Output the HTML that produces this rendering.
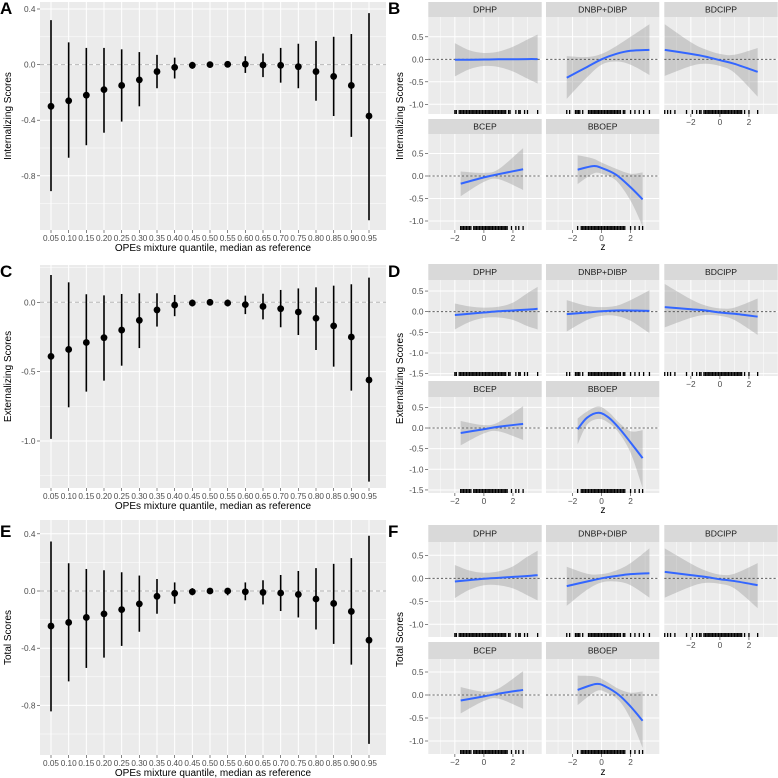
<!DOCTYPE html>
<html><head><meta charset="utf-8"><style>
html,body{margin:0;padding:0;background:#fff;}
svg{display:block;font-family:"Liberation Sans",Arial,sans-serif;}
</style></head><body>
<svg id="fig" width="778" height="778" viewBox="0 0 778 778" xmlns="http://www.w3.org/2000/svg"></svg>
<script>
// ---------- left panel data (quantile mixture effects) ----------
const quantiles = ["0.05","0.10","0.15","0.20","0.25","0.30","0.35","0.40","0.45","0.50","0.55","0.60","0.65","0.70","0.75","0.80","0.85","0.90","0.95"];
const intEst = [-0.30,-0.26,-0.22,-0.18,-0.15,-0.11,-0.05,-0.02,-0.005,0,0.002,0.003,-0.003,-0.005,-0.015,-0.05,-0.085,-0.15,-0.37];
const intLo  = [-0.91,-0.67,-0.58,-0.49,-0.41,-0.30,-0.17,-0.10,-0.03,0,-0.02,-0.06,-0.09,-0.13,-0.17,-0.26,-0.37,-0.52,-1.12];
const intHi  = [0.32,0.16,0.12,0.12,0.11,0.09,0.07,0.05,0.02,0,0.02,0.06,0.08,0.12,0.15,0.17,0.20,0.22,0.37];
const extEst = [-0.39,-0.34,-0.29,-0.255,-0.20,-0.13,-0.055,-0.02,-0.005,0,-0.005,-0.017,-0.03,-0.046,-0.07,-0.115,-0.17,-0.25,-0.56];
const extLo  = [-0.985,-0.757,-0.644,-0.565,-0.457,-0.33,-0.175,-0.10,-0.03,0,-0.03,-0.085,-0.123,-0.18,-0.236,-0.344,-0.464,-0.637,-1.293];
const extHi  = [0.197,0.144,0.058,0.05,0.06,0.065,0.065,0.053,0.02,0,0.02,0.048,0.062,0.089,0.10,0.108,0.12,0.13,0.178];
const totEst = [-0.245,-0.22,-0.185,-0.16,-0.13,-0.09,-0.037,-0.016,-0.005,0,0,-0.005,-0.01,-0.014,-0.024,-0.056,-0.087,-0.143,-0.344];
const totLo  = [-0.842,-0.632,-0.538,-0.466,-0.384,-0.285,-0.159,-0.089,-0.03,0,-0.03,-0.065,-0.094,-0.14,-0.185,-0.269,-0.37,-0.515,-1.069];
const totHi  = [0.346,0.194,0.154,0.145,0.131,0.108,0.084,0.06,0.02,0,0.02,0.06,0.075,0.112,0.14,0.16,0.19,0.23,0.386];
const leftTicksA = [0.4,0,-0.4,-0.8];
const leftTicksC = [0,-0.5,-1.0];
const leftTicksE = [0.4,0,-0.4,-0.8];

// ---------- right panel data (univariate exposure-response) ----------
const facetNames = ["DPHP","DNBP+DIBP","BDCIPP","BCEP","BBOEP"];
const zDPHP = [-2,-1,0,1,2,3,3.7];
const zDNBP = [-2.4,-1,0,1,2,3.3];
const zBDCIPP = [-3.8,-2,-1,0,1,2.6];
const zBCEP = [-1.6,0,1,2.7];
const zBBOEP_B = [-1.65,-0.6,0,1,2,2.83];
const zBBOEP_D = [-1.65,-1,-0.2,0.5,1.2,2,2.83];
const zBBOEP_F = [-1.65,-0.4,0.3,1.2,2,2.83];
// Internalizing (B)
const bFit = [[-0.01,-0.01,-0.005,0,0,0.005,0.005],[-0.41,-0.17,0.0,0.12,0.19,0.21],[0.21,0.12,0.06,-0.02,-0.1,-0.28],[-0.17,-0.03,0.04,0.15],[0.14,0.22,0.18,0.03,-0.25,-0.52]];
const bLo  = [[-0.38,-0.22,-0.15,-0.17,-0.27,-0.43,-0.54],[-0.88,-0.4,-0.12,-0.05,-0.12,-0.35],[-0.37,-0.15,-0.1,-0.15,-0.3,-0.83],[-0.45,-0.13,-0.07,-0.31],[-0.18,0.05,0.05,-0.1,-0.55,-1.12]];
const bHi  = [[0.36,0.2,0.14,0.17,0.28,0.44,0.55],[0.07,0.05,0.12,0.29,0.5,0.78],[0.78,0.38,0.22,0.12,0.1,0.25],[0.1,0.07,0.15,0.62],[0.46,0.39,0.3,0.16,0.05,0.08]];
// Externalizing (D)
const dFit = [[-0.08,-0.05,-0.02,0.01,0.03,0.05,0.07],[-0.06,-0.02,0.01,0.03,0.03,0.02],[0.11,0.06,0.03,-0.02,-0.05,-0.12],[-0.12,-0.03,0.03,0.1],[-0.03,0.25,0.37,0.25,0.0,-0.35,-0.73]];
const dLo  = [[-0.43,-0.25,-0.15,-0.14,-0.2,-0.35,-0.43],[-0.48,-0.2,-0.1,-0.1,-0.22,-0.52],[-0.38,-0.15,-0.08,-0.1,-0.2,-0.56],[-0.42,-0.13,-0.08,-0.29],[-0.4,0.08,0.22,0.12,-0.12,-0.6,-1.45]];
const dHi  = [[0.2,0.13,0.1,0.12,0.22,0.45,0.6],[0.28,0.14,0.11,0.14,0.28,0.52],[0.67,0.3,0.15,0.08,0.1,0.32],[0.17,0.07,0.14,0.53],[0.23,0.4,0.52,0.38,0.13,-0.08,-0.05]];
// Total (F)
const fFit = [[-0.07,-0.04,-0.01,0.01,0.03,0.05,0.07],[-0.17,-0.07,0.0,0.05,0.09,0.11],[0.14,0.07,0.03,-0.02,-0.06,-0.15],[-0.12,-0.03,0.03,0.11],[0.11,0.24,0.18,0.0,-0.25,-0.56]];
const fLo  = [[-0.43,-0.25,-0.15,-0.15,-0.22,-0.37,-0.48],[-0.6,-0.25,-0.09,-0.07,-0.15,-0.42],[-0.42,-0.18,-0.1,-0.12,-0.22,-0.65],[-0.4,-0.13,-0.08,-0.3],[-0.22,0.08,0.06,-0.12,-0.52,-1.15]];
const fHi  = [[0.29,0.17,0.12,0.15,0.26,0.47,0.6],[0.25,0.1,0.09,0.17,0.33,0.65],[0.65,0.32,0.17,0.08,0.1,0.33],[0.17,0.07,0.14,0.52],[0.42,0.4,0.3,0.13,0.05,0.08]];
// rug exposures
const rugDPHP = [-2,-1.9,-1.7,-1.6,-1.5,-1.4,-1.3,-1.2,-1.1,-1,-0.9,-0.8,-0.7,-0.6,-0.5,-0.4,-0.3,-0.2,-0.1,0,0.1,0.2,0.3,0.4,0.5,0.6,0.7,0.8,0.9,1,1.1,1.2,1.3,1.4,1.5,1.7,1.8,2.2,2.4,2.5,2.8,3.0,3.7];
const rugDNBP = [-2.4,-2.2,-1.8,-1.7,-1.6,-1.5,-1.3,-0.9,-0.8,-0.7,-0.6,-0.5,-0.4,-0.3,-0.2,-0.1,0,0.1,0.2,0.3,0.4,0.5,0.6,0.7,0.8,0.9,1,1.1,1.2,1.3,1.5,1.6,2.0,2.3,2.6,2.9,3.3];
const rugBDCIPP = [-3.8,-3.6,-3.4,-3.1,-2.3,-1.9,-1.6,-1.4,-1.3,-1.1,-1,-0.9,-0.8,-0.7,-0.6,-0.5,-0.4,-0.3,-0.2,-0.1,0,0.1,0.2,0.3,0.4,0.5,0.6,0.7,0.8,0.9,1,1.1,1.2,1.3,1.4,1.5,1.7,2.0,2.6];
const rugBCEP = [-1.6,-1.5,-1.4,-1.3,-1.2,-1.1,-1,-0.9,-0.7,-0.6,-0.5,-0.4,-0.3,-0.2,-0.1,0,0.1,0.2,0.3,0.4,0.5,0.6,0.7,0.8,0.9,1,1.1,1.2,1.3,1.4,1.5,1.6,1.9,2.2,2.4,2.7];
const rugBBOEP = [-1.65,-1.4,-1.3,-1.2,-1.1,-1,-0.9,-0.8,-0.7,-0.6,-0.5,-0.4,-0.3,-0.2,-0.1,0,0.1,0.2,0.3,0.4,0.5,0.6,0.7,0.8,0.9,1,1.1,1.2,1.3,1.4,1.5,1.6,2.0,2.3,2.6,2.83];
const zTicks = [-2,0,2];

const NS = "http://www.w3.org/2000/svg";
const svg = document.getElementById("fig");
function mk(tag, attrs, parent){ const e=document.createElementNS(NS,tag); for(const k in attrs) e.setAttribute(k,attrs[k]); (parent||svg).appendChild(e); return e; }
function txt(s, attrs, parent){ const t=mk("text",attrs,parent); t.textContent=s; return t; }
function fmt(v,d){ return v.toFixed(d); }
function smooth(pts){
  let d="M"+pts[0][0]+","+pts[0][1];
  for(let i=0;i<pts.length-1;i++){
    const p0=pts[i-1]||pts[i], p1=pts[i], p2=pts[i+1], p3=pts[i+2]||p2;
    const c1=[p1[0]+(p2[0]-p0[0])/6, p1[1]+(p2[1]-p0[1])/6];
    const c2=[p2[0]-(p3[0]-p1[0])/6, p2[1]-(p3[1]-p1[1])/6];
    d+=" C"+c1[0]+","+c1[1]+" "+c2[0]+","+c2[1]+" "+p2[0]+","+p2[1];
  }
  return d;
}
function letter(s,x,y){
  const t=txt(s,{x:x,y:y,"font-size":17,"font-weight":"bold",fill:"#000"});
  
  
}

// ---------- left chart ----------
function leftChart(id, top, bottom, zeroY, ppu, ticks, dec, title, est, lo, hi){
  const g=mk("g",{});
  
  
  const L=40, R=386;
  const yS=v=>zeroY-v*ppu;
  const xS=i=>51+i*(318/18);
  mk("rect",{x:L,y:top,width:R-L,height:bottom-top,fill:"#ebebeb"},g);
  const step=ticks.length>1?Math.abs(ticks[0]-ticks[1]):0.4;
  const vTop=(zeroY-top)/ppu, vBot=(zeroY-bottom)/ppu;
  for(let m=ticks[ticks.length-1]-step*5.5;m<=vTop;m+=step){ if(m>=vBot) mk("line",{x1:L,x2:R,y1:yS(m),y2:yS(m),stroke:"#fff","stroke-width":0.5},g); }
  ticks.forEach(t=>{
    mk("line",{x1:L,x2:R,y1:yS(t),y2:yS(t),stroke:"#fff","stroke-width":1},g);
    mk("line",{x1:37,x2:40,y1:yS(t),y2:yS(t),stroke:"#333","stroke-width":0.6},g);
    const lab=txt(fmt(t,dec),{x:35.5,y:yS(t)+3,"font-size":8.3,fill:"#4d4d4d","text-anchor":"end"},g);
    
    
  });
  quantiles.forEach((q,i)=>{
    mk("line",{x1:xS(i),x2:xS(i),y1:top,y2:bottom,stroke:"#fff","stroke-width":1},g);
    mk("line",{x1:xS(i),x2:xS(i),y1:bottom,y2:bottom+3,stroke:"#333","stroke-width":0.6},g);
    const lab=txt(q,{x:xS(i),y:bottom+11,"font-size":8.2,fill:"#4d4d4d","text-anchor":"middle"},g);
    
    
  });
  mk("line",{x1:L,x2:R,y1:yS(0),y2:yS(0),stroke:"#b8b8b8","stroke-width":1,"stroke-dasharray":"4,3"},g);
  quantiles.forEach((q,i)=>{
    const bar=mk("line",{x1:xS(i),x2:xS(i),y1:yS(hi[i]),y2:yS(lo[i]),stroke:"#000","stroke-width":1.6},g);
    
    
    const pt=mk("circle",{cx:xS(i),cy:yS(est[i]),r:3.4,fill:"#000"},g);
    
    
  });
  const xt=txt("OPEs mixture quantile, median as reference",{x:213,y:bottom+21,"font-size":10,fill:"#000","text-anchor":"middle"},g);
  
  
  const cy=(top+bottom)/2;
  const yt=txt(title,{x:0,y:0,"font-size":10,fill:"#000","text-anchor":"middle",transform:"translate(11,"+cy+") rotate(-90)"},g);
  
  
}

// ---------- right facet chart ----------
const rugs=[rugDPHP,rugDNBP,rugBDCIPP,rugBCEP,rugBBOEP];
function rightChart(id, rows, ppu, yTicks, title, zs, fit, lo, hi, zLabY, zTitleY){
  const g=mk("g",{});
  
  
  const cols=[[428.3,541.7],[546,659.3],[664.3,777.7]];
  const zMin=-3.83, zMax=3.98;
  rows.forEach(([sTop,pTop,pBot,zeroY],ri)=>{
    const yS=v=>zeroY-v*ppu;
    const vTop=(zeroY-pTop)/ppu, vBot=(zeroY-pBot)/ppu;
    yTicks.forEach(t=>{
      mk("line",{x1:425,x2:428.3,y1:yS(t),y2:yS(t),stroke:"#333","stroke-width":0.6},g);
      const lab=txt(fmt(t,1),{x:423.5,y:yS(t)+3,"font-size":8.3,fill:"#4d4d4d","text-anchor":"end"},g);
      
      
    });
    for(let c=0;c<3;c++){
      const f=ri*3+c; if(f>4) continue;
      const [L,R]=cols[c];
      const xS=z=>L+(z-zMin)/(zMax-zMin)*(R-L);
      const strip=mk("rect",{x:L,y:sTop,width:R-L,height:pTop-sTop,fill:"#d9d9d9"},g);
      
      
      const st=txt(facetNames[f],{x:(L+R)/2,y:(sTop+pTop)/2+3,"font-size":8.6,fill:"#1a1a1a","text-anchor":"middle"},g);
      
      
      mk("rect",{x:L,y:pTop,width:R-L,height:pBot-pTop,fill:"#ebebeb"},g);
      for(let m=-3.75;m<=vTop;m+=0.5){ if(m>=vBot && Math.abs(m*2%2)===1) mk("line",{x1:L,x2:R,y1:yS(m),y2:yS(m),stroke:"#fff","stroke-width":0.5},g); }
      yTicks.forEach(t=>mk("line",{x1:L,x2:R,y1:yS(t),y2:yS(t),stroke:"#fff","stroke-width":1},g));
      [-3,-1,1,3].forEach(z=>mk("line",{x1:xS(z),x2:xS(z),y1:pTop,y2:pBot,stroke:"#fff","stroke-width":0.5},g));
      zTicks.forEach(z=>mk("line",{x1:xS(z),x2:xS(z),y1:pTop,y2:pBot,stroke:"#fff","stroke-width":1},g));
      const up=zs[f].map((z,i)=>[xS(z),yS(Math.min(hi[f][i],vTop))]);
      const dn=zs[f].map((z,i)=>[xS(z),yS(Math.max(lo[f][i],vBot))]).reverse();
      let dUp=smooth(up), dDn=smooth(dn).replace(/^M/,"L");
      const band=mk("path",{d:dUp+" "+dDn+" Z",fill:"#999","fill-opacity":0.4},g);
      
      
      mk("line",{x1:L,x2:R,y1:yS(0),y2:yS(0),stroke:"#444","stroke-width":0.8,"stroke-dasharray":"2.2,2"},g);
      const line=mk("path",{d:smooth(zs[f].map((z,i)=>[xS(z),yS(fit[f][i])])),fill:"none",stroke:"#3366ff","stroke-width":2},g);
      
      
      rugs[f].forEach(z=>mk("line",{x1:xS(z),x2:xS(z),y1:pBot-4,y2:pBot,stroke:"#000","stroke-width":1.3},g));
      const showX = (ri===1) || (ri===0 && c===2);
      if(showX){
        zTicks.forEach(z=>{
          mk("line",{x1:xS(z),x2:xS(z),y1:pBot,y2:pBot+3,stroke:"#333","stroke-width":0.6},g);
          const lab=txt(z<0?"\u2212"+Math.abs(z):String(z),{x:xS(z),y:pBot+11,"font-size":8.3,fill:"#4d4d4d","text-anchor":"middle"},g);
          
          
        });
      }
    }
  });
  const zt=txt("z",{x:603,y:zTitleY,"font-size":10,fill:"#000","text-anchor":"middle"},g);
  
  
  const cy=(rows[0][0]+rows[1][2])/2;
  const yt=txt(title,{x:0,y:0,"font-size":10,fill:"#000","text-anchor":"middle",transform:"translate(403,"+cy+") rotate(-90)"},g);
  
  
}

leftChart("a",2,230,64.6,139,leftTicksA,1,"Internalizing Scores",intEst,intLo,intHi);
leftChart("c",265,488,302.3,138.7,leftTicksC,1,"Externalizing Scores",extEst,extLo,extHi);
leftChart("e",520,755,591,143,leftTicksE,1,"Total Scores",totEst,totLo,totHi);

const zB=[zDPHP,zDNBP,zBDCIPP,zBCEP,zBBOEP_B];
const zD=[zDPHP,zDNBP,zBDCIPP,zBCEP,zBBOEP_D];
const zF=[zDPHP,zDNBP,zBDCIPP,zBCEP,zBBOEP_F];
rightChart("b",[[2,17,114,59.3],[119,134,230,176]],45,[0.5,0,-0.5,-1.0],"Internalizing Scores",zB,bFit,bLo,bHi,0,250);
rightChart("d",[[264,280,376,311.7],[381,397,493,428]],41.3,[0.5,0,-0.5,-1.0,-1.5],"Externalizing Scores",zD,dFit,dLo,dHi,0,513);
rightChart("f",[[525,542,637,578.3],[642,659,754,695]],46,[0.5,0,-0.5,-1.0],"Total Scores",zF,fFit,fLo,fHi,0,775);

letter("A",0,14); letter("B",388,14);
letter("C",0,277); letter("D",388,277);
letter("E",0,537); letter("F",388,537);
</script>
</body></html>
